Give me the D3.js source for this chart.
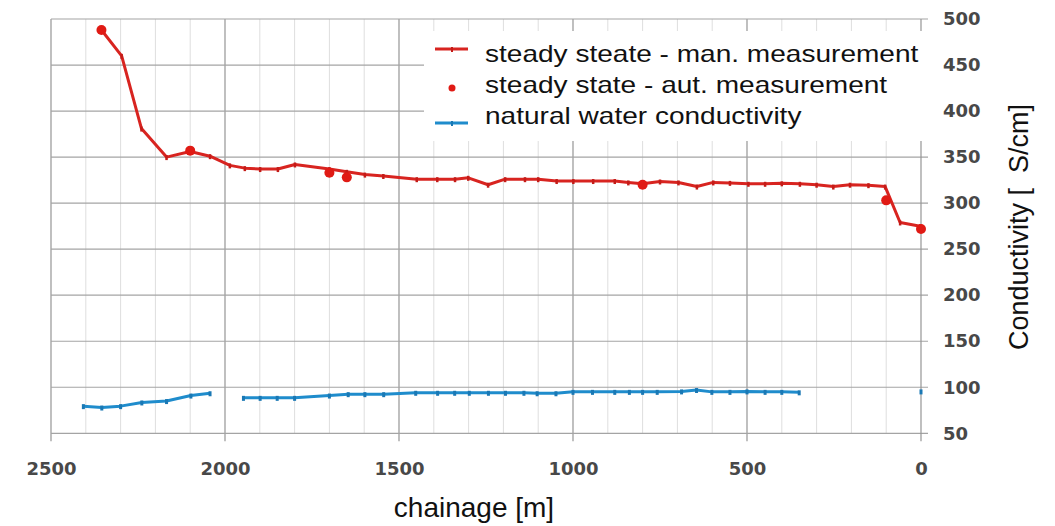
<!DOCTYPE html>
<html>
<head>
<meta charset="utf-8">
<script src="https://cdn.jsdelivr.net/npm/d3@7"></script>
<style>
  body { margin: 0; background: #fff; }
  svg { display: block; }
  .tick text { font-family: "DejaVu Sans", sans-serif; font-weight: bold; font-size: 18px; fill: #484848; }
</style>
</head>
<body>
<svg width="1055" height="526"></svg>
<script>
// chart data
var xTicks = [2500, 2000, 1500, 1000, 500, 0];
var yTicks = [50, 100, 150, 200, 250, 300, 350, 400, 450, 500];

// steady state - manual measurement (line)
var manChainage = [2355, 2297, 2240, 2168, 2100, 2043, 1986, 1943, 1899, 1848, 1799, 1700, 1650, 1598, 1545,
  1449, 1390, 1339, 1301, 1244, 1195, 1138, 1100, 1047, 999, 942, 880, 841, 800, 750, 697, 644, 597, 549,
  496, 448, 400, 348, 300, 252, 204, 151, 103, 60, 2];
var manValues = [488, 460, 381, 350, 356, 351, 341, 338, 337, 337, 342, 337, 334, 331, 329.5,
  326, 326, 326, 327.5, 320, 326, 326, 326, 324, 324, 324, 324, 322.5, 321, 323.5, 322.5, 318, 322.5, 322,
  321, 321, 321.5, 321, 320, 318, 320, 319.5, 318, 279, 275];

// steady state - automatic measurement (points only)
var autChainage = [2355, 2100, 1700, 1650, 800, 100, 0];
var autValues = [488, 357, 333, 328, 320, 303, 272];

// natural water conductivity (null = gap in the line)
var natChainage = [2407, 2354, 2300, 2239, 2168, 2098, 2043, 2000, 1947, 1899, 1850, 1800, 1700, 1646, 1598,
  1544, 1452, 1389, 1340, 1298, 1243, 1194, 1141, 1103, 1049, 1000, 944, 880, 838, 800, 758, 688, 645, 601,
  549, 500, 448, 400, 350, 200, 0];
var natValues = [79.5, 78, 79.5, 83.5, 85, 91, 93.5, null, 88.5, 88.5, 88.5, 88.5, 91, 92.5, 92.5,
  92.5, 94, 94, 94, 94, 94, 94, 94, 93.5, 93.5, 95, 95, 95, 95, 95, 95, 95.5, 97, 95,
  95, 95.5, 95, 95, 94.5, null, 95.5];

var legendLabels = ['steady steate - man. measurement', 'steady state - aut. measurement', 'natural water conductivity'];

var RED = '#d82420', BLUE = '#1f8ccc', GRID = '#a4a4a4';

var svg = d3.select('svg');
var x = d3.scaleLinear().domain([2500, 0]).range([51, 921]);
var y = d3.scaleLinear().domain([50, 500]).range([433.3, 19]);

function zip(xs, ys) {
  return xs.map(function(d, i) { return { c: d, v: ys[i] }; });
}
var manData = zip(manChainage, manValues);
var autData = zip(autChainage, autValues);
var natData = zip(natChainage, natValues);

// grid
var grid = svg.append('g');
grid.selectAll('.minor').data(d3.range(100, 2500, 100).filter(function(d) { return d % 500 != 0; }))
  .enter().append('line')
  .attr('x1', function(d) { return x(d); }).attr('x2', function(d) { return x(d); })
  .attr('y1', y(500)).attr('y2', y(50))
  .attr('stroke', '#dedede').attr('stroke-width', 1);
grid.selectAll('.major').data(xTicks.filter(function(d) { return d != 0; }))
  .enter().append('line')
  .attr('x1', function(d) { return x(d); }).attr('x2', function(d) { return x(d); })
  .attr('y1', y(500)).attr('y2', y(50) + 8)
  .attr('stroke', '#959595').attr('stroke-width', 1.2);
grid.selectAll('.hline').data(yTicks)
  .enter().append('line')
  .attr('x1', x(2500)).attr('x2', x(0) + 7)
  .attr('y1', function(d) { return y(d); }).attr('y2', function(d) { return y(d); })
  .attr('stroke', GRID).attr('stroke-width', 1.2);

// right axis line, cut later by the legend box
svg.append('line').attr('x1', x(0)).attr('x2', x(0)).attr('y1', y(500)).attr('y2', y(50) + 8)
  .attr('stroke', '#959595').attr('stroke-width', 1.2);

// axes (labels only)
var xAxis = svg.append('g')
  .attr('transform', 'translate(0,' + y(50) + ')')
  .call(d3.axisBottom(x).tickValues(xTicks).tickSize(0).tickFormat(d3.format('d')));
xAxis.select('.domain').remove();
xAxis.selectAll('text').attr('y', 35).attr('dy', '0.35em');

var yAxis = svg.append('g')
  .attr('transform', 'translate(' + x(0) + ',0)')
  .call(d3.axisRight(y).tickValues(yTicks).tickSize(0).tickPadding(22));
yAxis.select('.domain').remove();

// series
var line = d3.line()
  .defined(function(d) { return d.v != null; })
  .x(function(d) { return x(d.c); })
  .y(function(d) { return y(d.v); });

svg.append('path').datum(natData)
  .attr('d', line).attr('fill', 'none')
  .attr('stroke', BLUE).attr('stroke-width', 3).attr('stroke-linejoin', 'round');
svg.append('g').selectAll('line')
  .data(natData.filter(function(d) { return d.v != null; }))
  .enter().append('line')
  .attr('x1', function(d) { return x(d.c); }).attr('x2', function(d) { return x(d.c); })
  .attr('y1', function(d) { return y(d.v) - 2; }).attr('y2', function(d) { return y(d.v) + 3; })
  .attr('stroke', '#1a78b4').attr('stroke-width', 3);

svg.append('path').datum(manData)
  .attr('d', line).attr('fill', 'none')
  .attr('stroke', RED).attr('stroke-width', 3).attr('stroke-linejoin', 'round');
svg.append('g').selectAll('line')
  .data(manData)
  .enter().append('line')
  .attr('x1', function(d) { return x(d.c); }).attr('x2', function(d) { return x(d.c); })
  .attr('y1', function(d) { return y(d.v) - 2; }).attr('y2', function(d) { return y(d.v) + 3; })
  .attr('stroke', '#c41c18').attr('stroke-width', 2.5);

svg.append('g').selectAll('circle')
  .data(autData)
  .enter().append('circle')
  .attr('cx', function(d) { return x(d.c); })
  .attr('cy', function(d) { return y(d.v); })
  .attr('r', 5).attr('fill', '#e01a14');

// legend (white box covers the grid and axis)
var lg = svg.append('g');
lg.append('rect').attr('x', 424).attr('y', 31).attr('width', 508).attr('height', 110).attr('fill', '#fff');

var rows = [62, 93, 124];
lg.append('line').attr('x1', 435).attr('x2', 468).attr('y1', 49).attr('y2', 49)
  .attr('stroke', RED).attr('stroke-width', 3);
lg.append('line').attr('x1', 452).attr('x2', 452).attr('y1', 47).attr('y2', 52)
  .attr('stroke', '#c41c18').attr('stroke-width', 2);
lg.append('circle').attr('cx', 452).attr('cy', 88).attr('r', 3.5).attr('fill', '#e01a14');
lg.append('line').attr('x1', 435).attr('x2', 468).attr('y1', 123).attr('y2', 123)
  .attr('stroke', BLUE).attr('stroke-width', 3);
lg.append('line').attr('x1', 452).attr('x2', 452).attr('y1', 121).attr('y2', 126)
  .attr('stroke', '#1a78b4').attr('stroke-width', 2);
lg.selectAll('.lt').data(legendLabels)
  .enter().append('text')
  .attr('transform', function(d, i) { return 'translate(485,' + rows[i] + ') scale(1.22,1)'; })
  .style('font-family', '"Liberation Sans", Arial, sans-serif')
  .style('font-size', '23px').attr('fill', '#111')
  .text(function(d) { return d; });

// axis titles
svg.append('text')
  .attr('x', 474).attr('y', 517).attr('text-anchor', 'middle')
  .style('font-family', '"Liberation Sans", Arial, sans-serif')
  .style('font-size', '28px').attr('fill', '#111')
  .text('chainage [m]');

svg.append('text')
  .attr('transform', 'translate(1028,227) rotate(-90)')
  .attr('text-anchor', 'middle')
  .style('font-family', '"Liberation Sans", Arial, sans-serif')
  .style('font-size', '27px').style('white-space', 'pre').attr('fill', '#111')
  .text('Conductivity [  S/cm]');
</script>
</body>
</html>
